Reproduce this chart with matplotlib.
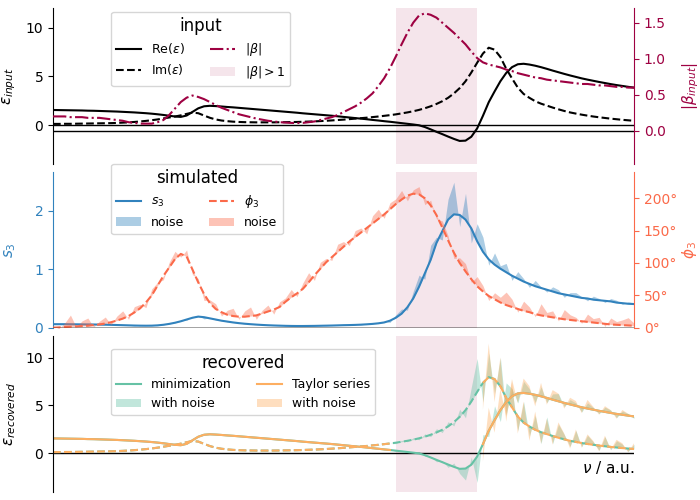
# ==========================================================
# Input / simulated / recovered permittivity spectra
# ==========================================================

import numpy as np
import matplotlib
matplotlib.use("Agg")
import matplotlib.pyplot as plt
from matplotlib.patches import Patch

# ==========================
# Data
# ==========================

nu = np.arange(101)

eps_re = [
    1.55, 1.54, 1.53, 1.52, 1.51, 1.50, 1.48, 1.47, 1.45, 1.43,
    1.41, 1.39, 1.36, 1.33, 1.30, 1.26, 1.22, 1.17, 1.11, 1.04,
    0.96, 0.88, 0.84, 0.98, 1.35, 1.72, 1.93, 1.98, 1.95, 1.91,
    1.86, 1.82, 1.77, 1.72, 1.67, 1.62, 1.57, 1.52, 1.47, 1.42,
    1.37, 1.32, 1.27, 1.21, 1.16, 1.11, 1.06, 1.01, 0.96, 0.90,
    0.84, 0.78, 0.72, 0.66, 0.60, 0.53, 0.47, 0.40, 0.34, 0.27,
    0.20, 0.13, 0.06, -0.02, -0.20, -0.44, -0.69, -0.93, -1.18, -1.42,
    -1.63, -1.60, -1.20, -0.35, 0.95, 2.35, 3.45, 4.50, 5.35, 5.95,
    6.25, 6.30, 6.22, 6.10, 5.95, 5.78, 5.60, 5.43, 5.26, 5.10,
    4.95, 4.80, 4.67, 4.55, 4.43, 4.32, 4.21, 4.11, 4.02, 3.93, 3.85,
]

eps_im = [
    0.12, 0.12, 0.13, 0.13, 0.14, 0.15, 0.16, 0.17, 0.18, 0.19,
    0.20, 0.22, 0.25, 0.28, 0.32, 0.37, 0.43, 0.50, 0.58, 0.68,
    0.78, 0.88, 1.00, 1.15, 1.28, 1.22, 0.98, 0.75, 0.58, 0.47,
    0.40, 0.35, 0.32, 0.30, 0.29, 0.28, 0.28, 0.28, 0.28, 0.29,
    0.30, 0.31, 0.32, 0.34, 0.36, 0.38, 0.41, 0.44, 0.48, 0.52,
    0.56, 0.61, 0.66, 0.71, 0.76, 0.82, 0.88, 0.95, 1.02, 1.10,
    1.20, 1.30, 1.42, 1.56, 1.73, 1.93, 2.17, 2.45, 2.80, 3.25,
    3.80, 4.50, 5.40, 6.40, 7.35, 7.95, 7.75, 7.00, 5.80, 4.80,
    3.85, 3.20, 2.80, 2.45, 2.20, 2.00, 1.80, 1.62, 1.45, 1.30,
    1.18, 1.07, 0.97, 0.88, 0.80, 0.73, 0.66, 0.60, 0.54, 0.49, 0.44,
]

beta = [
    0.20, 0.20, 0.20, 0.19, 0.19, 0.19, 0.18, 0.18, 0.18, 0.17,
    0.16, 0.15, 0.14, 0.12, 0.11, 0.10, 0.10, 0.10, 0.12, 0.15,
    0.22, 0.31, 0.40, 0.46, 0.49, 0.47, 0.44, 0.40, 0.36, 0.32,
    0.29, 0.26, 0.23, 0.21, 0.19, 0.17, 0.155, 0.14, 0.13, 0.12,
    0.115, 0.11, 0.108, 0.11, 0.12, 0.13, 0.15, 0.17, 0.19, 0.22,
    0.26, 0.30, 0.34, 0.39, 0.45, 0.52, 0.62, 0.73, 0.87, 1.03,
    1.20, 1.36, 1.50, 1.60, 1.63, 1.61, 1.57, 1.50, 1.43, 1.36,
    1.28, 1.20, 1.10, 1.01, 0.95, 0.92, 0.90, 0.88, 0.85, 0.83,
    0.80, 0.78, 0.76, 0.74, 0.73, 0.71, 0.70, 0.69, 0.68, 0.67,
    0.66, 0.65, 0.65, 0.64, 0.63, 0.63, 0.62, 0.61, 0.61, 0.60, 0.60,
]

s3 = [
    0.060, 0.060, 0.060, 0.059, 0.058, 0.057, 0.056, 0.055, 0.053, 0.051,
    0.049, 0.046, 0.043, 0.040, 0.037, 0.035, 0.034, 0.035, 0.040, 0.050,
    0.065, 0.085, 0.110, 0.140, 0.170, 0.190, 0.180, 0.160, 0.140, 0.120,
    0.105, 0.090, 0.078, 0.068, 0.060, 0.053, 0.047, 0.042, 0.038, 0.035,
    0.032, 0.030, 0.029, 0.029, 0.030, 0.031, 0.033, 0.035, 0.037, 0.040,
    0.043, 0.045, 0.048, 0.052, 0.058, 0.065, 0.075, 0.090, 0.120, 0.170,
    0.24, 0.35, 0.50, 0.70, 0.93, 1.16, 1.45, 1.65, 1.85, 1.94,
    1.93, 1.85, 1.70, 1.48, 1.30, 1.17, 1.08, 1.01, 0.95, 0.89,
    0.84, 0.79, 0.75, 0.71, 0.68, 0.65, 0.62, 0.59, 0.57, 0.55,
    0.53, 0.51, 0.50, 0.48, 0.47, 0.46, 0.45, 0.43, 0.42, 0.41, 0.405,
]

s3_noise = [
    0.010, -0.005, 0.012, 0.0, -0.008, 0.010, 0.004, -0.006, 0.008, 0.0,
    0.005, -0.004, 0.006, 0.002, -0.005, 0.004, 0.0, 0.003, -0.004, 0.005,
    0.006, -0.005, 0.010, -0.012, 0.015, 0.020, -0.030, 0.012, -0.008, 0.006,
    -0.005, 0.004, 0.003, -0.004, 0.003, 0.0, -0.003, 0.002, 0.0, 0.002,
    -0.002, 0.002, 0.0, -0.002, 0.003, 0.0, 0.002, -0.003, 0.002, 0.003,
    -0.004, 0.005, 0.003, -0.006, 0.008, -0.005, 0.010, 0.020, -0.030, 0.050,
    0.08, -0.05, 0.12, 0.20, -0.10, 0.25, 0.10, -0.15, 0.35, 0.55,
    -0.20, 0.45, -0.25, 0.30, 0.25, -0.10, 0.20, 0.05, 0.15, -0.08,
    0.12, 0.05, -0.06, 0.10, 0.02, -0.04, 0.08, 0.06, -0.05, 0.05,
    0.07, 0.02, -0.04, 0.06, 0.03, -0.03, 0.05, 0.04, -0.02, 0.03, 0.02,
]

phi3 = [
    0, 0.5, 1, 1.5, 2, 2.5, 3, 4, 5, 6.5,
    8.5, 11, 14, 18, 23.5, 30, 39, 50, 65, 80,
    93, 106, 114, 110, 90, 70, 52, 38, 29, 24,
    20, 18, 17, 17, 18, 19, 22, 25, 28, 32,
    40, 47, 53, 60, 70, 81, 91, 101, 109, 117,
    125, 133, 140, 147, 154, 161, 168, 175, 183, 191,
    198, 204, 207, 206, 200, 189, 174, 155, 135, 116,
    100, 87, 75, 64, 56, 49, 44, 39, 35, 32,
    29, 26, 24, 21, 19, 17.5, 16, 14.5, 13, 12,
    11, 10, 9, 8, 7, 6, 5, 4.5, 4, 3.5, 3,
]

phi3_noise = [
    3, -2, 6, 18, -1, 8, 12, -3, 5, 10,
    -4, 7, 12, -5, 9, 6, -8, 10, 5, -6,
    8, 12, -5, 10, -8, 6, -10, 5, 8, -6,
    7, 12, -4, 9, 14, -6, 5, 10, -7, 8,
    6, 12, -5, 9, 15, -8, 10, 6, -5, 12,
    8, -6, 10, 7, -9, 12, 15, -6, 10, 8,
    14, -8, 6, 12, -10, 8, -6, 10, 7, -9,
    8, 12, -5, 15, 9, -7, 10, 8, 20, 12,
    -5, 15, 8, -4, 18, 6, 10, -4, 15, 8,
    5, -3, 12, 6, 9, -4, 10, 5, 8, 12, 4,
]

# recovered noise, only for the upper part of the spectrum (index 55..100)
min_re_noise = [
    0.0, 0.05, -0.05, 0.1, -0.1, 0.1, -0.15, 0.05, 0.2, -0.1,
    0.1, -0.2, 0.15, -0.3, 0.4, -0.5, -1.2, 0.8, -2.7, 1.0,
    -0.6, 1.5, -1.2, 2.0, 0.8, -1.0, 1.2, 0.5, -0.8, 1.0,
    -0.5, 0.6, 0.8, -0.4, 0.5, 0.3, -0.5, 0.6, 0.2, -0.3,
    0.5, 0.3, -0.4, 0.4, 0.2, -0.2,
]
min_im_noise = [
    0.05, -0.05, 0.1, 0.0, -0.1, 0.15, -0.1, 0.2, -0.15, 0.3,
    -0.2, 0.4, -0.3, 0.5, -0.4, 0.8, -0.8, 1.5, 3.5, -2.0,
    2.5, -1.5, 3.0, -1.8, 2.0, -1.5, 2.2, -1.0, 1.5, -1.2,
    1.8, -0.8, 1.4, 0.5, -0.6, 1.2, -0.4, 0.9, 0.3, -0.5,
    1.0, -0.3, 0.7, 0.4, -0.3, 0.5,
]
tay_re_noise = [
    0.0, 0.0, 0.0, 0.0, 0.0, 0.0, 0.0, 0.0, 0.0, 0.0,
    0.0, 0.0, 0.0, 0.0, 0.0, 0.0, 0.0, 0.0, 0.5, -1.8,
    2.4, -1.3, 2.2, -1.5, 1.8, -1.0, 1.5, 0.8, -1.2, 1.4,
    -0.7, 1.0, 0.8, -0.6, 0.7, 0.5, -0.6, 0.9, 0.3, -0.4,
    0.6, 0.3, -0.5, 0.5, 0.2, -0.2,
]
tay_im_noise = [
    0.0, 0.0, 0.0, 0.0, 0.0, 0.0, 0.0, 0.0, 0.0, 0.0,
    0.0, 0.0, 0.0, 0.0, 0.0, 0.0, 0.0, 0.0, 1.0, -2.8,
    3.5, -2.4, 3.0, -2.5, 2.6, -1.8, 2.2, -1.5, 1.9, -1.2,
    1.6, -0.9, 1.6, 0.6, -0.8, 1.3, -0.5, 1.0, 0.4, -0.6,
    1.1, -0.3, 0.8, 0.5, -0.4, 0.6,
]

phi_ticks = [0, 50, 100, 150, 200]

eps_re = np.array(eps_re)
eps_im = np.array(eps_im)
beta = np.array(beta)
s3 = np.array(s3)
phi3 = np.array(phi3)
seg = slice(55, 101)

# Taylor series is undefined where |beta| > 1
tay_re = np.where(beta > 1, np.nan, eps_re)
tay_im = np.where(beta > 1, np.nan, eps_im)

C_BETA = "#9e0142"
C_S3 = "#3182bd"
C_PHI = "#fb6a4a"
C_MIN = "#66c2a5"
C_TAY = "#fdae61"

# ==========================
# Figure
# ==========================

fig = plt.figure(figsize=(7, 5), dpi=100)
ax1 = fig.add_axes([0.0757, 0.672, 0.83, 0.3114])
ax2 = fig.add_axes([0.0757, 0.3446, 0.83, 0.312])
ax3 = fig.add_axes([0.0757, 0.016, 0.83, 0.312])

for ax in [ax1, ax2, ax3]:
    ax.fill_between(nu, 0, 1, where=beta > 1, color=C_BETA, alpha=0.1,
                    lw=0, transform=ax.get_xaxis_transform())
    ax.axhline(0, color="k", lw=1)
    ax.set_xlim(0, 100)
    ax.set_xticks([])
    for side in ["top", "bottom", "right"]:
        ax.spines[side].set_visible(False)

# ==========================
# Panel 1 : input
# ==========================

l_re, = ax1.plot(nu, eps_re, color="k", lw=1.5, label=r"Re($\varepsilon$)")
l_im, = ax1.plot(nu, eps_im, color="k", lw=1.5, ls="--", label=r"Im($\varepsilon$)")
ax1.set_ylim(-4, 12)
ax1.set_yticks([0, 5, 10])
ax1.set_ylabel(r"$\varepsilon_{input}$", fontsize=11)
ax1.yaxis.set_label_coords(-0.06, 0.5)

tw1 = ax1.twinx()
l_beta, = tw1.plot(nu, beta, color=C_BETA, lw=1.5, ls="-.", label=r"$|\beta|$")
tw1.axhline(0, color="k", lw=1)
tw1.set_ylim(-0.46, 1.70)
tw1.set_yticks([0, 0.5, 1.0, 1.5])
tw1.set_ylabel(r"$|\beta_{input}|$", fontsize=11, color=C_BETA)
tw1.yaxis.set_label_coords(1.08, 0.5)
tw1.tick_params(axis="y", colors=C_BETA)
tw1.spines["right"].set_color(C_BETA)
for side in ["top", "bottom", "left"]:
    tw1.spines[side].set_visible(False)

tw1.legend(
    handles=[l_re, l_im, l_beta,
             Patch(color=C_BETA, alpha=0.1, lw=0, label=r"$|\beta|>1$")],
    title="input", ncol=2, fontsize=9, title_fontsize=12,
    loc="upper left", bbox_to_anchor=(0.1, 0.978), borderaxespad=0,
)

# ==========================
# Panel 2 : simulated
# ==========================

ax2.fill_between(nu, s3, s3 + np.array(s3_noise), color=C_S3, alpha=0.4, lw=0)
l_s3, = ax2.plot(nu, s3, color=C_S3, lw=1.5, label=r"$s_3$")
ax2.set_ylim(0, 2.67)
ax2.set_yticks([0, 1, 2])
ax2.set_ylabel(r"$s_3$", fontsize=11, color=C_S3)
ax2.yaxis.set_label_coords(-0.06, 0.5)
ax2.tick_params(axis="y", colors=C_S3)
ax2.spines["left"].set_color(C_S3)

tw2 = ax2.twinx()
tw2.fill_between(nu, phi3, phi3 + np.array(phi3_noise), color=C_PHI, alpha=0.4, lw=0)
l_phi, = tw2.plot(nu, phi3, color=C_PHI, lw=1.5, ls="--", label=r"$\phi_3$")
tw2.axhline(0, color="k", lw=1)
tw2.set_ylim(0, 241)
tw2.set_yticks(phi_ticks)
tw2.set_yticklabels([f"{t}°" for t in phi_ticks])
tw2.set_ylabel(r"$\phi_3$", fontsize=11, color=C_PHI)
tw2.yaxis.set_label_coords(1.08, 0.5)
tw2.tick_params(axis="y", colors=C_PHI)
tw2.spines["right"].set_color(C_PHI)
for side in ["top", "bottom", "left"]:
    tw2.spines[side].set_visible(False)

tw2.legend(
    handles=[l_s3, Patch(color=C_S3, alpha=0.4, lw=0, label="noise"),
             l_phi, Patch(color=C_PHI, alpha=0.4, lw=0, label="noise")],
    title="simulated", ncol=2, fontsize=9, title_fontsize=12,
    loc="upper left", bbox_to_anchor=(0.1, 1.05), borderaxespad=0,
)

# ==========================
# Panel 3 : recovered
# ==========================

ax3.fill_between(nu[seg], eps_re[seg], eps_re[seg] + np.array(min_re_noise),
                 color=C_MIN, alpha=0.4, lw=0)
ax3.fill_between(nu[seg], eps_im[seg], eps_im[seg] + np.array(min_im_noise),
                 color=C_MIN, alpha=0.4, lw=0)
ax3.fill_between(nu[seg], tay_re[seg], tay_re[seg] + np.array(tay_re_noise),
                 color=C_TAY, alpha=0.4, lw=0)
ax3.fill_between(nu[seg], tay_im[seg], tay_im[seg] + np.array(tay_im_noise),
                 color=C_TAY, alpha=0.4, lw=0)

l_min, = ax3.plot(nu, eps_re, color=C_MIN, lw=1.5, label="minimization")
ax3.plot(nu, eps_im, color=C_MIN, lw=1.5, ls="--")
l_tay, = ax3.plot(nu, tay_re, color=C_TAY, lw=1.5, label="Taylor series")
ax3.plot(nu, tay_im, color=C_TAY, lw=1.5, ls="--")

ax3.set_ylim(-4.05, 12.25)
ax3.set_yticks([0, 5, 10])
ax3.set_ylabel(r"$\varepsilon_{recovered}$", fontsize=11)
ax3.yaxis.set_label_coords(-0.06, 0.5)
ax3.text(1.0, 0.155, r"$\nu$ / a.u.", ha="right", va="center",
         fontsize=11, transform=ax3.transAxes)

ax3.legend(
    handles=[l_min, Patch(color=C_MIN, alpha=0.4, lw=0, label="with noise"),
             l_tay, Patch(color=C_TAY, alpha=0.4, lw=0, label="with noise")],
    title="recovered", ncol=2, fontsize=9, title_fontsize=12,
    loc="upper left", bbox_to_anchor=(0.1, 0.917), borderaxespad=0,
)

plt.savefig("out.png", dpi=100)
plt.close()

print("Figure Saved")
